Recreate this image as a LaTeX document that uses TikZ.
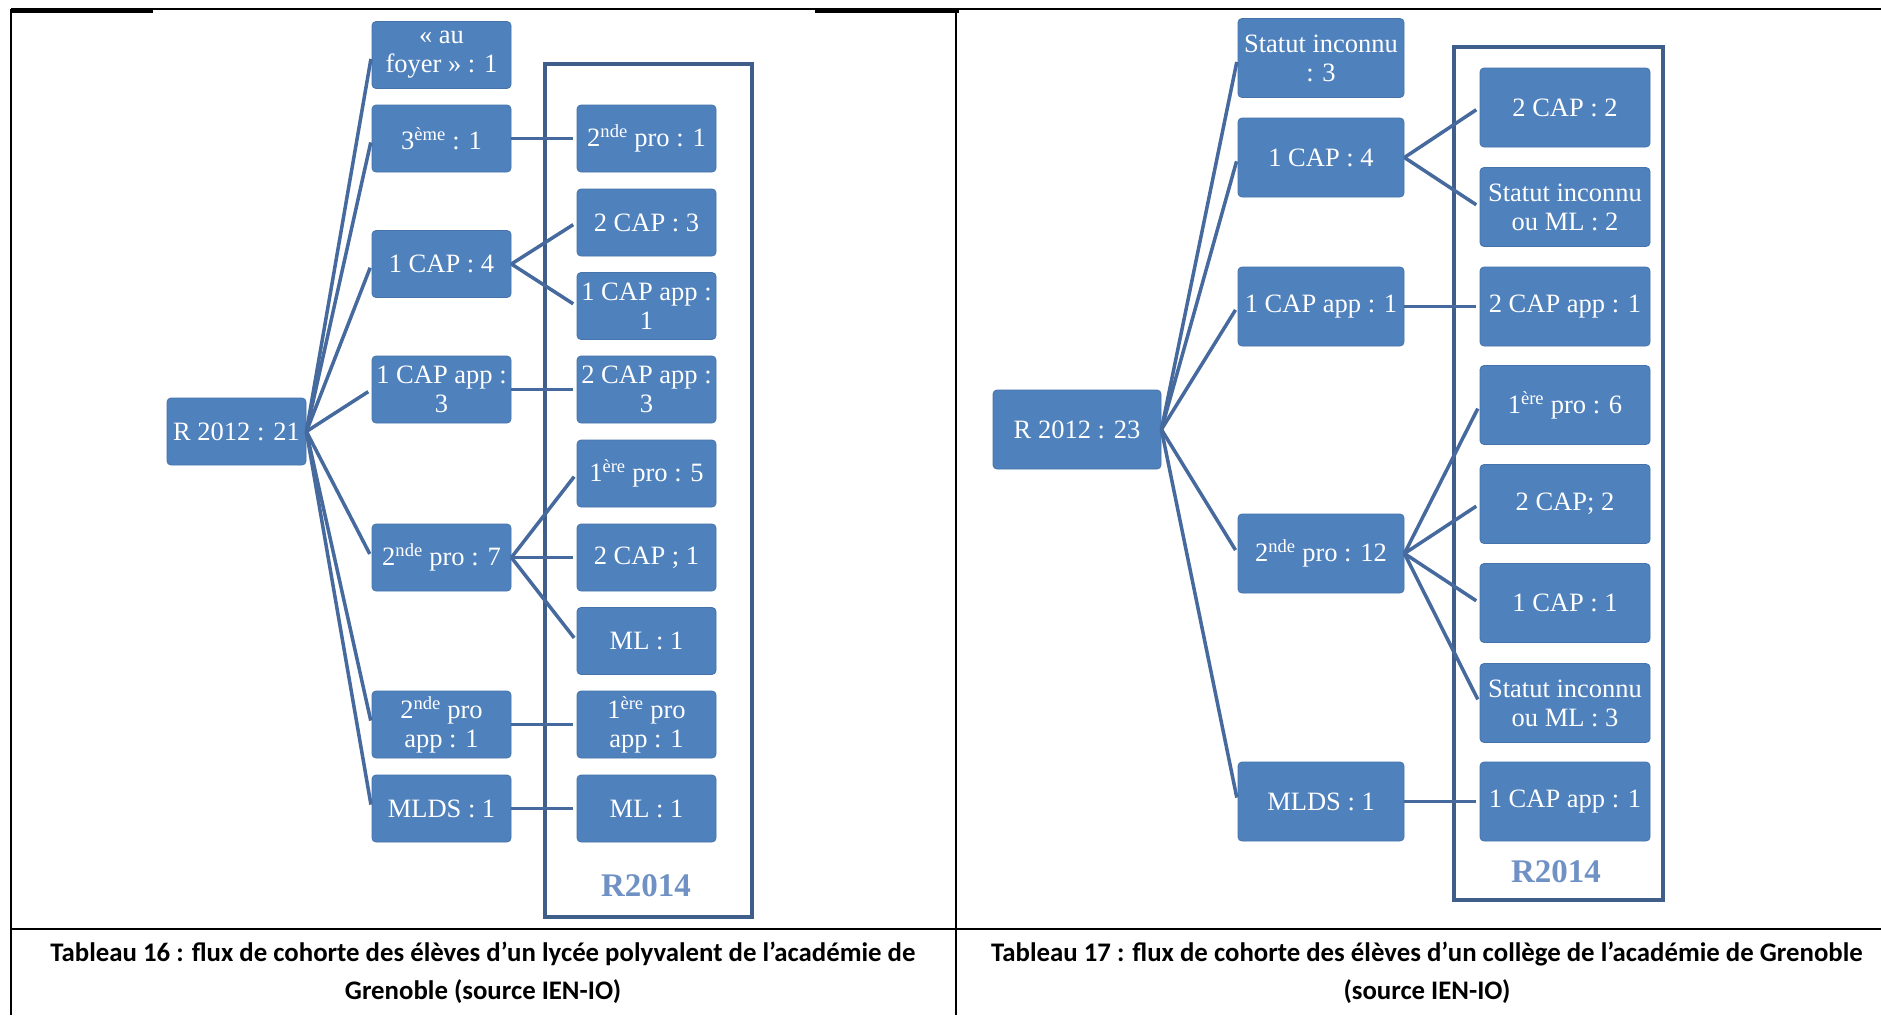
\documentclass[tikz,border=0pt]{standalone}
\usepackage{fontspec}
\setmainfont{Liberation Serif}
\newfontfamily\capfont{Carlito}
\definecolor{boxblue}{HTML}{4F81BD}
\definecolor{boxedge}{HTML}{4673AA}
\definecolor{linkblue}{HTML}{46699E}
\definecolor{framec}{HTML}{3F5F8A}
\definecolor{rtext}{HTML}{6F91C4}
\begin{document}
\begin{tikzpicture}[x=1pt,y=-1pt,
  bx/.style={fill=boxblue, draw=boxedge, line width=0.8pt, rounded corners=4pt,
    text=white, align=center, inner sep=0pt, font=\fontsize{26.5}{29}\selectfont},
  lbx/.style={bx, minimum width=139pt, minimum height=67pt},
  rbx/.style={bx, minimum width=166pt, minimum height=79pt},
  conn/.style={draw=linkblue, line width=3.5pt, shorten >=4pt},
  frm/.style={draw=framec, line width=3.5pt},
  rlab/.style={text=rtext, font=\bfseries\fontsize{33}{33}\selectfont},
  tbl/.style={draw=black, line width=2pt},
  captxt/.style={align=center, font=\capfont\bfseries\fontsize{26.8}{38}\selectfont}]
\useasboundingbox (0,0) rectangle (1881,1015);
\fill[white] (0,0) rectangle (1881,1015);
% table
\draw[tbl] (11,9) -- (1881,9);
\draw[tbl, line width=3pt] (11,11) -- (153,11);
\draw[tbl, line width=3pt] (815,11) -- (959,11);
\draw[tbl] (11,9) -- (11,1015);
\draw[tbl] (956,9) -- (956,1015);
\draw[tbl] (11,929) -- (1881,929);
% frames
\draw[frm] (545,64) rectangle (752,917);
\draw[frm] (1454,47) rectangle (1663,900);
\node[rlab] (r14a) at (646,886) {R2014};
\node[rlab] (r14b) at (1556,872) {R2014};
% ---------- left diagram
\node[lbx] (L) at (236.5,431.5) {R 2012 : 21};
\node[lbx] (a1) at (441.5,55) {« au\\foyer » : 1};
\node[lbx] (a2) at (441.5,138.5) {3\textsuperscript{ème} : 1};
\node[lbx] (a3) at (441.5,264) {1 CAP : 4};
\node[lbx] (a4) at (441.5,389.5) {1 CAP app :\\3};
\node[lbx] (a5) at (441.5,557.5) {2\textsuperscript{nde} pro : 7};
\node[lbx] (a6) at (441.5,724.5) {2\textsuperscript{nde} pro\\app : 1};
\node[lbx] (a7) at (441.5,808.5) {MLDS : 1};
\node[lbx] (b1) at (646.5,138.5) {2\textsuperscript{nde} pro : 1};
\node[lbx] (b2) at (646.5,222.5) {2 CAP : 3};
\node[lbx] (b3) at (646.5,306) {1 CAP app :\\1};
\node[lbx] (b4) at (646.5,389.5) {2 CAP app :\\3};
\node[lbx] (b5) at (646.5,473.5) {1\textsuperscript{ère} pro : 5};
\node[lbx] (b6) at (646.5,557.5) {2 CAP ; 1};
\node[lbx] (b7) at (646.5,641) {ML : 1};
\node[lbx] (b8) at (646.5,724.5) {1\textsuperscript{ère} pro\\app : 1};
\node[lbx] (b9) at (646.5,808.5) {ML : 1};
\foreach \c in {a1,a2,a3,a4,a5,a6,a7} \draw[conn] (L.east) -- (\c.west);
\draw[conn] (a2.east) -- (b1.west);
\draw[conn] (a3.east) -- (b2.west);
\draw[conn] (a3.east) -- (b3.west);
\draw[conn] (a4.east) -- (b4.west);
\draw[conn] (a5.east) -- (b5.west);
\draw[conn] (a5.east) -- (b6.west);
\draw[conn] (a5.east) -- (b7.west);
\draw[conn] (a6.east) -- (b8.west);
\draw[conn] (a7.east) -- (b9.west);
% ---------- right diagram
\node[rbx, minimum width=168pt] (R) at (1077,429.5) {R 2012 : 23};
\node[rbx] (c1) at (1321,58) {Statut inconnu\\: 3};
\node[rbx] (c2) at (1321,157.5) {1 CAP : 4};
\node[rbx] (c3) at (1321,306.5) {1 CAP app : 1};
\node[rbx] (c4) at (1321,553.5) {2\textsuperscript{nde} pro : 12};
\node[rbx] (c5) at (1321,801.5) {MLDS : 1};
\node[rbx, minimum width=170pt] (d1) at (1565,107.5) {2 CAP : 2};
\node[rbx, minimum width=170pt] (d2) at (1565,207) {Statut inconnu\\ou ML : 2};
\node[rbx, minimum width=170pt] (d3) at (1565,306.5) {2 CAP app : 1};
\node[rbx, minimum width=170pt] (d4) at (1565,405) {1\textsuperscript{ère} pro : 6};
\node[rbx, minimum width=170pt] (d5) at (1565,504) {2 CAP; 2};
\node[rbx, minimum width=170pt] (d6) at (1565,603) {1 CAP : 1};
\node[rbx, minimum width=170pt] (d7) at (1565,703) {Statut inconnu\\ou ML : 3};
\node[rbx, minimum width=170pt] (d8) at (1565,801.5) {1 CAP app : 1};
\foreach \c in {c1,c2,c3,c4,c5} \draw[conn] (R.east) -- (\c.west);
\draw[conn] (c2.east) -- (d1.west);
\draw[conn] (c2.east) -- (d2.west);
\draw[conn] (c3.east) -- (d3.west);
\draw[conn] (c4.east) -- (d4.west);
\draw[conn] (c4.east) -- (d5.west);
\draw[conn] (c4.east) -- (d6.west);
\draw[conn] (c4.east) -- (d7.west);
\draw[conn] (c5.east) -- (d8.west);
% captions
\node[captxt] (cap1) at (483,973) {Tableau 16 : flux de cohorte des élèves d’un lycée polyvalent de l’académie de\\Grenoble (source IEN-IO)};
\node[captxt] (cap2) at (1427,973) {Tableau 17 : flux de cohorte des élèves d’un collège de l’académie de Grenoble\\(source IEN-IO)};
\end{tikzpicture}
\end{document}
